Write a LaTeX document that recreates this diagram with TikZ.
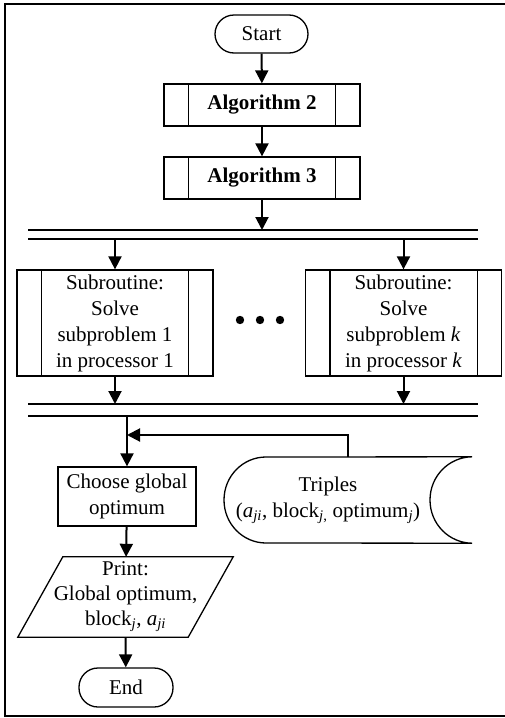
\documentclass[tikz,border=0pt]{standalone}
\usepackage{fontspec}
\setmainfont{Liberation Serif}
\usetikzlibrary{arrows.meta}

\tikzset{
  box/.style={draw, line width=1.3pt, inner sep=0pt, align=center,
    font=\fontsize{21}{26}\selectfont},
  term/.style={box, rounded corners=19pt},
  subr/.style={box},
  arr/.style={line width=2pt, -{Triangle[length=13pt,width=13pt]}},
  bar/.style={line width=2pt},
  frame/.style={line width=2pt},
  outline/.style={line width=1.3pt},
}

\newcommand{\subrsides}[1]{%
  \draw[outline] ([xshift=25pt]#1.north west) -- ([xshift=25pt]#1.south west);
  \draw[outline] ([xshift=-25pt]#1.north east) -- ([xshift=-25pt]#1.south east);
}

\begin{document}
\begin{tikzpicture}[x=1pt, y=-1pt]
\useasboundingbox (0,0) rectangle (505,718);

% frame, open on the right
\begin{scope}
  \clip (0,0) rectangle (505,718);
  \draw[frame] (520,4) -- (5,4) -- (5,716) -- (520,716);
\end{scope}

% top part
\node[term, minimum width=93pt, minimum height=38pt] (start) at (261.5,34) {Start};
\node[subr, minimum width=196pt, minimum height=42pt, font=\fontsize{21}{26}\selectfont\bfseries] (alg2) at (262,105) {Algorithm 2};
\subrsides{alg2}
\node[subr, minimum width=196pt, minimum height=42pt, font=\fontsize{21}{26}\selectfont\bfseries] (alg3) at (262,178) {Algorithm 3};
\subrsides{alg3}

\draw[arr] (start) -- (alg2);
\draw[arr] (alg2) -- (alg3);

% fork bars
\coordinate (b1L) at (28,230); \coordinate (b1R) at (478,230);
\coordinate (b2L) at (28,239); \coordinate (b2R) at (478,239);
\draw[bar] (b1L) -- (b1R);
\draw[bar] (b2L) -- (b2R);
\draw[arr] (alg3.south) -- (alg3.south |- b1L);

% parallel subroutines
\node[subr, minimum width=196pt, minimum height=106pt] (sub1) at (115,323)
  {Subroutine:\\Solve\\subproblem 1\\in processor 1};
\subrsides{sub1}
\node[subr, minimum width=196pt, minimum height=106pt] (subk) at (403.5,323)
  {Subroutine:\\Solve\\subproblem \textit{k}\\in processor \textit{k}};
\subrsides{subk}

\foreach \dx in {240,260,280} \fill (\dx,320) circle (4.2pt);

\draw[arr] (sub1.north |- b2L) -- (sub1.north);
\draw[arr] (subk.north |- b2L) -- (subk.north);

% join bars
\coordinate (b3L) at (28,404); \coordinate (b3R) at (478,404);
\coordinate (b4L) at (28,416); \coordinate (b4R) at (478,416);
\draw[bar] (b3L) -- (b3R);
\draw[bar] (b4L) -- (b4R);
\draw[arr] (sub1.south) -- (sub1.south |- b3L);
\draw[arr] (subk.south) -- (subk.south |- b3L);

% choose global optimum
\node[box, minimum width=138pt, minimum height=59pt] (choose) at (127,496.5)
  {Choose global\\optimum};
\draw[arr] (choose.north |- b4L) -- (choose.north);

% stored triples
\node[inner sep=0pt, minimum width=248pt, minimum height=86pt, align=center,
  font=\fontsize{21}{26}\selectfont] (triples) at (348,500)
  {\hspace*{-40pt}Triples\\\hspace*{-40pt}(\textit{a}\textsubscript{\textit{ji}}, block\textsubscript{\textit{j},} optimum\textsubscript{\textit{j}})};
\draw[outline]
  (triples.north east) -- (266,457)
  .. controls (243,457) and (224,476) .. (224,500)
  .. controls (224,524) and (243,543) .. (266,543)
  -- (triples.south east)
  .. controls (449,543) and (430,524) .. (430,500)
  .. controls (430,476) and (449,457) .. (triples.north east);
\coordinate (join) at (choose.north |- 0,435);
\draw[arr] (triples.north) |- (join);

% print result (parallelogram)
\node[inner sep=0pt, align=center, minimum width=170pt, minimum height=80pt,
  font=\fontsize{21}{25}\selectfont] (print) at (125.5,597)
  {Print:\\Global optimum,\\block\textsubscript{\textit{j}}, \textit{a}\textsubscript{\textit{ji}}};
\draw[outline]
  ([xshift=22.5pt]print.north west) -- ([xshift=22.5pt]print.north east)
  -- ([xshift=-22.5pt]print.south east) -- ([xshift=-22.5pt]print.south west)
  -- cycle;
\draw[arr] (choose) -- (print);

% end
\node[term, minimum width=94pt, minimum height=39pt] (end) at (126,687.5) {End};
\draw[arr] (print.south) -- (end);
\end{tikzpicture}
\end{document}
